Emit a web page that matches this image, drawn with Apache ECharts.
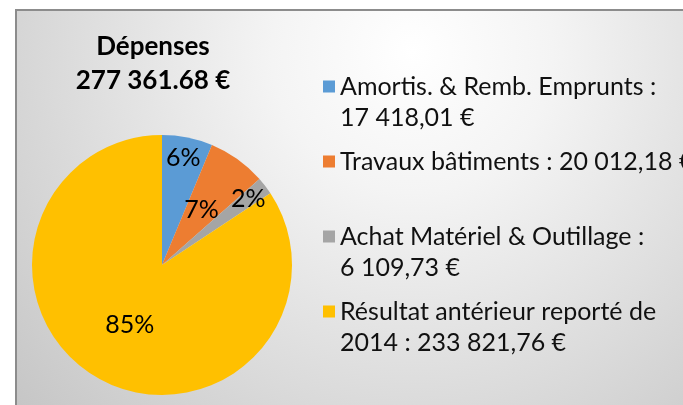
<!DOCTYPE html>
<html>
<head>
<meta charset="utf-8">
<script src="https://cdn.jsdelivr.net/npm/echarts@6/dist/echarts.min.js"></script>
<style>
  html, body { margin: 0; padding: 0; background: #fff; }
  #chart { width: 683px; height: 405px; }
</style>
</head>
<body>
<div id="chart"></div>
<script>
// data
const categories = [
  'Amortis. & Remb. Emprunts',
  'Travaux bâtiments',
  'Achat Matériel & Outillage',
  'Résultat antérieur reporté de 2014'
]
const amounts = [17418.01, 20012.18, 6109.73, 233821.76]
const legendLabels = [
  'Amortis. & Remb. Emprunts :\n17 418,01 €',
  'Travaux bâtiments : 20 012,18 €\n',
  'Achat Matériel & Outillage :\n6 109,73 €',
  'Résultat antérieur reporté de\n2014 : 233 821,76 €'
]
const pctLabels = ['6%', '7%', '2%', '85%']
const titleLines = ['Dépenses', '277 361.68 €']

const colors = ['#5B9BD5', '#ED7D31', '#A5A5A5', '#FFC000']
const FONT = 'Lato, "Open Sans", sans-serif'

const pieCenter = [162, 265]
const pieRadius = 130
// how far out each % label sits, as a share of the radius
const labelRadius = [0.8, 0.5, 0.8, 0.5]

const chart = echarts.init(document.getElementById('chart'))

const option = {
  animation: false,
  backgroundColor: '#ffffff',
  graphic: {
    elements: [
      {
        type: 'rect',
        z: -10,
        shape: { x: 16, y: 10, width: 720, height: 430 },
        style: {
          fill: {
            type: 'radial',
            x: 0.55,
            y: 0.1,
            r: 1.3,
            colorStops: [
              { offset: 0, color: '#ffffff' },
              { offset: 0.25, color: '#f4f4f4' },
              { offset: 1, color: '#c2c2c2' }
            ]
          },
          stroke: '#8c8c8c',
          lineWidth: 2
        }
      },
      {
        type: 'text',
        z: 10,
        x: 153,
        y: 47,
        style: {
          text: titleLines[0],
          font: 'bold 26px ' + FONT,
          fill: '#000',
          textAlign: 'center',
          textVerticalAlign: 'middle'
        }
      },
      {
        type: 'text',
        z: 10,
        x: 153,
        y: 81,
        style: {
          text: titleLines[1],
          font: 'bold 26px ' + FONT,
          fill: '#000',
          textAlign: 'center',
          textVerticalAlign: 'middle'
        }
      }
    ]
  },
  legend: {
    orient: 'vertical',
    left: 318,
    top: 66,
    itemWidth: 12,
    itemHeight: 43,
    itemGap: 13,
    icon: 'path://M0,0h12v12h-12z M0,43h0.01',
    formatter: (name) => legendLabels[categories.indexOf(name)],
    textStyle: {
      fontFamily: FONT,
      fontSize: 25,
      lineHeight: 31,
      color: '#111'
    }
  },
  series: [
    {
      type: 'pie',
      center: pieCenter,
      radius: pieRadius,
      startAngle: 90,
      clockwise: true,
      color: colors,
      itemStyle: { borderWidth: 0 },
      emphasis: { disabled: true },
      label: {
        show: true,
        position: 'inside',
        formatter: (p) => pctLabels[p.dataIndex],
        fontFamily: FONT,
        fontSize: 25,
        color: '#000'
      },
      labelLine: { show: false },
      labelLayout: (p) => {
        const r = p.labelRect
        const lx = r.x + r.width / 2 - pieCenter[0]
        const ly = r.y + r.height / 2 - pieCenter[1]
        const k = labelRadius[p.dataIndex] / 0.5 - 1
        return { dx: lx * k, dy: ly * k }
      },
      data: categories.map((name, i) => ({ name, value: amounts[i] }))
    }
  ]
}

chart.setOption(option)
</script>
</body>
</html>
